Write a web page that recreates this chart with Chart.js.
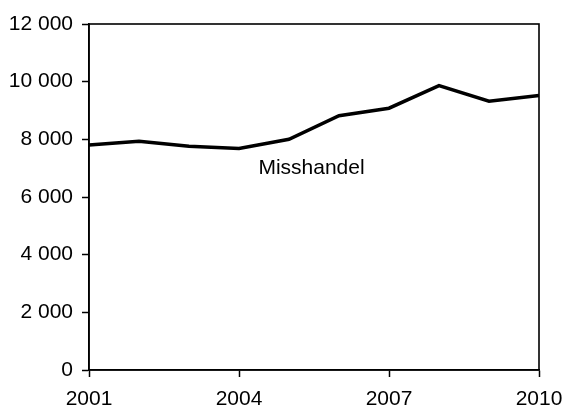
<!DOCTYPE html>
<html>
<head>
<meta charset="utf-8">
<script src="https://cdn.jsdelivr.net/npm/chart.js@4"></script>
<style>
html,body{margin:0;padding:0;background:#fff}
#wrap{width:565px;height:408px;position:relative}
</style>
</head>
<body>
<div id="wrap"><canvas id="c"></canvas></div>
<script>
// Misshandel 2001-2010
const years=["2001","2002","2003","2004","2005","2006","2007","2008","2009","2010"];
const misshandel=[7800,7930,7760,7680,8000,8820,9080,9860,9320,9520];
const seriesLabel="Misshandel";
const yTicks={min:0,max:12000,step:2000};
const shownYears=["2001","2004","2007","2010"];

const FONT='"Liberation Sans", Arial, sans-serif';
const fmt=v=>String(v).replace(/\B(?=(\d{3})+(?!\d))/g," ");

// frame round plot area + series label
const framePlugin={id:"frame",
  afterDraw(ch){
    const a=ch.chartArea,ctx=ch.ctx;
    ctx.save();
    ctx.strokeStyle="#000";ctx.lineWidth=1.6;
    ctx.strokeRect(a.left,a.top,a.right-a.left,a.bottom-a.top);
    const x=ch.scales.x.getPixelForValue(4.45),y=ch.scales.y.getPixelForValue(7000);
    ctx.fillStyle="#000";ctx.font="21px "+FONT;ctx.textAlign="center";ctx.textBaseline="middle";
    ctx.fillText(seriesLabel,x,y);
    ctx.restore();
  }};

new Chart(document.getElementById("c"),{type:"line",
  data:{labels:years,datasets:[{label:seriesLabel,data:misshandel,borderColor:"#000",borderWidth:3.5,pointRadius:0,tension:0,fill:false}]},
  options:{responsive:true,maintainAspectRatio:false,animation:false,
    layout:{padding:{left:0,right:26,top:24,bottom:0}},
    plugins:{legend:{display:false},tooltip:{enabled:false}},
    scales:{
      x:{offset:false,
        grid:{drawOnChartArea:false,tickLength:7,tickWidth:1.5,color:c=>shownYears.includes(years[c.index])?"#000":"rgba(0,0,0,0)"},
        border:{color:"#000",width:1.6},
        ticks:{autoSkip:false,maxRotation:0,color:"#000",font:{size:21,family:FONT},padding:10,callback:(v,i)=>shownYears.includes(years[i])?years[i]:""},
        afterFit:s=>{s.height=38;s.paddingLeft=0;s.paddingRight=0}},
      y:{min:yTicks.min,max:yTicks.max,
        grid:{drawOnChartArea:false,tickLength:7,tickWidth:1.5,color:"#000"},
        border:{color:"#000",width:1.6},
        ticks:{stepSize:yTicks.step,color:"#000",font:{size:21,family:FONT},padding:9,callback:v=>fmt(v)},
        afterFit:s=>{s.width=89;s.paddingTop=0;s.paddingBottom=0}}
    }},
  plugins:[framePlugin]});
</script>
</body>
</html>
